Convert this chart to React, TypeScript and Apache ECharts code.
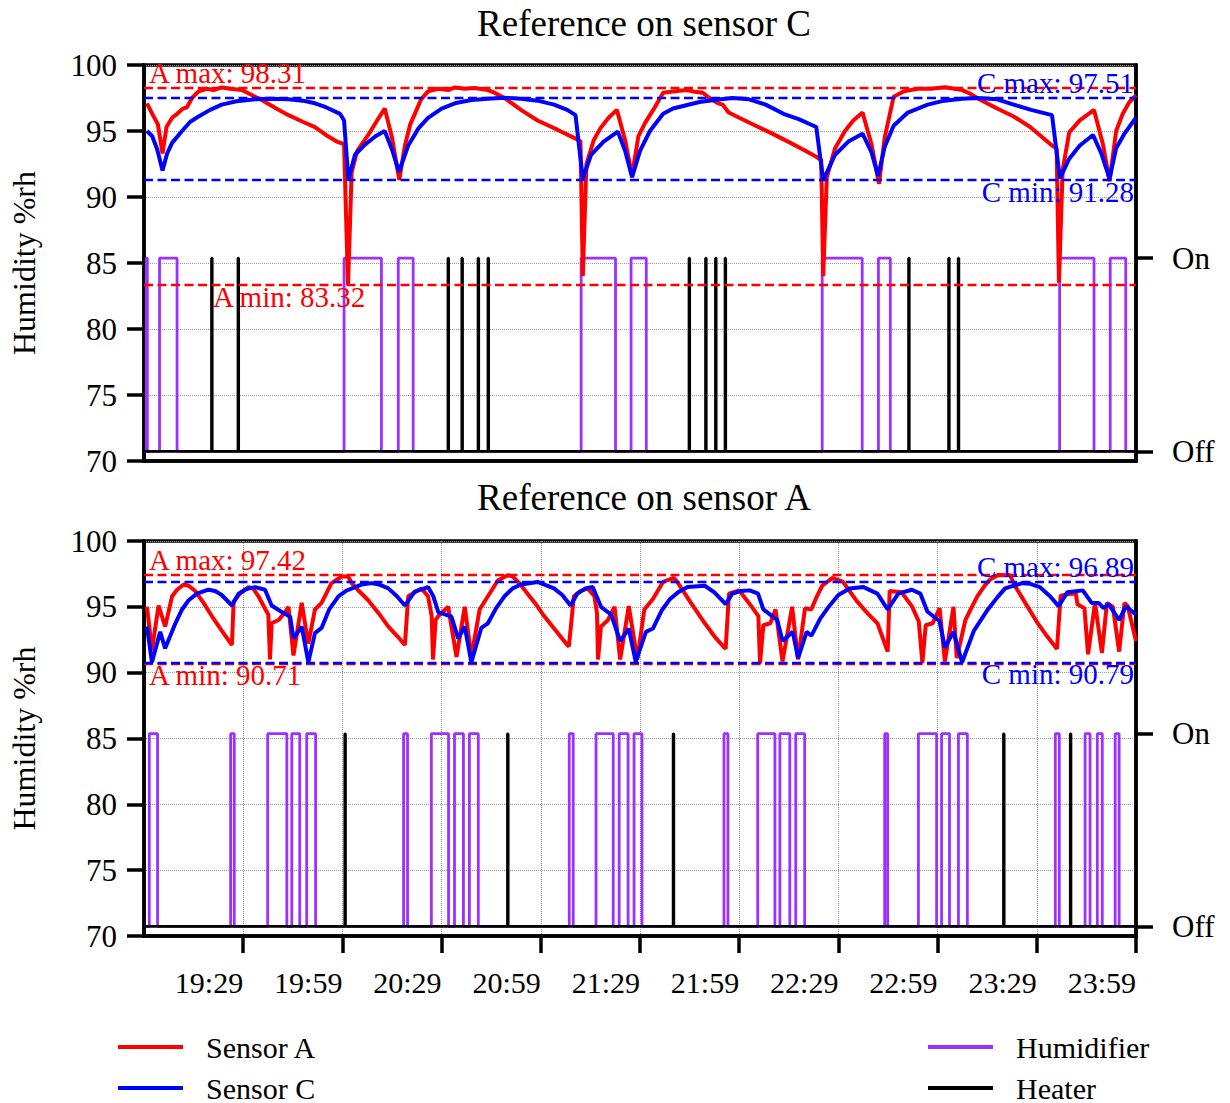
import React, { useEffect, useRef } from "react";
import * as echarts from "echarts";

const FONT = "'Liberation Serif', 'Times New Roman', 'DejaVu Serif', serif";
const START_MINUTES = 18 * 60 + 59; // x = 0 is 18:59
const X_MAX = 300;
const X_TICKS = [30, 60, 90, 120, 150, 180, 210, 240, 270, 300];

const TITLES = ["Reference on sensor C", "Reference on sensor A"];

// ---- Panel 1: reference on sensor C ([minutes after 18:59, %rh]) ----
const topSensorA: number[][] = [
  [0.9, 97.1], [2.5, 96.3], [4.2, 95.5], [5.6, 93.3], [6.8, 95.3], [8.5, 96.0], [10, 96.3], [11.8, 96.7],
  [13, 96.8], [14.5, 97.5], [16.5, 98.0], [19, 98.2], [21, 98.1], [23.5, 98.3], [26, 98.2], [29.6, 98.1],
  [32, 97.8], [35.6, 97.35], [40, 96.7], [43.7, 96.2], [48, 95.7], [51.7, 95.3], [55, 94.7], [58.3, 94.2],
  [60.5, 94.0], [61.7, 83.32], [62.8, 91.9], [64.5, 93.5], [67.8, 94.7], [70.5, 95.8], [72.8, 96.7], [75, 94.5],
  [77.2, 91.3], [78.9, 93.9], [80.5, 95.5], [81.9, 96.3], [83.8, 97.4], [85.9, 98.0], [89, 98.2], [92, 98.1],
  [94, 98.3], [97, 98.2], [100, 98.25], [104, 98.1], [106, 97.9], [109, 97.5], [114, 96.6], [119, 95.8],
  [125, 95.1], [130.7, 94.4], [132, 94.2], [132.7, 84.0], [133.8, 92.5], [136, 94.3], [138, 95.2], [140.5, 96.0],
  [143, 96.6], [145.5, 94.3], [147.6, 91.6], [149.5, 94.6], [151.5, 95.6], [154, 96.6], [157, 97.9], [160, 98.0],
  [164, 98.1], [166, 98.0], [169, 97.9], [171, 97.5], [173.6, 97.1], [175, 97.0], [176.8, 96.4], [180, 96.0],
  [185, 95.4], [190, 94.8], [195.5, 94.1], [200, 93.5], [203.3, 93.05], [204.8, 92.8], [205.4, 84.0], [206.5, 91.5],
  [209, 93.7], [212, 95.0], [214.5, 95.8], [217.3, 96.4], [220, 94.0], [222.3, 91.0], [224, 94.5], [226.7, 97.6],
  [229.7, 98.0], [234, 98.2], [238, 98.2], [242.3, 98.31], [245, 98.2], [247.5, 98.1], [250, 97.8], [252.6, 97.4],
  [258, 96.7], [263, 96.1], [268, 95.3], [274.6, 93.9], [276, 93.7], [276.7, 83.5], [277.8, 92.0], [279.8, 94.9],
  [283, 95.8], [287.3, 96.6], [290, 94.0], [292, 91.2], [294, 95.0], [296, 96.3], [298, 97.2], [300, 97.7],
];
const topSensorC: number[][] = [
  [0.9, 95.0], [2.5, 94.6], [4.0, 93.6], [5.6, 92.0], [7, 93.3], [8.5, 94.1], [11.5, 95.0], [14, 95.7],
  [16.5, 96.1], [20, 96.6], [23.5, 97.0], [28, 97.25], [33.6, 97.4], [38, 97.45], [43.7, 97.4], [48, 97.3],
  [51.7, 97.1], [55, 96.8], [59.3, 96.3], [60.5, 95.8], [61.8, 91.3], [63.8, 93.2], [67, 94.0], [70, 94.6],
  [72.8, 95.0], [75, 93.6], [77.1, 91.9], [79.9, 93.9], [83, 95.2], [85.9, 96.0], [90, 96.7], [94, 97.1],
  [99, 97.35], [104, 97.45], [109, 97.51], [114, 97.45], [119, 97.3], [124, 97.0], [128, 96.6], [130.5, 96.2],
  [132.7, 91.4], [135.2, 93.2], [139, 94.2], [143.3, 94.95], [145.5, 93.5], [147.6, 91.5], [150, 93.5], [153, 95.0],
  [157, 96.3], [160, 96.7], [164, 96.95], [168, 97.2], [172.6, 97.35], [178, 97.5], [183, 97.4], [188, 97.0],
  [193.4, 96.3], [198, 95.9], [203.3, 95.3], [205.4, 91.28], [209, 93.2], [213, 94.2], [217.3, 94.8], [220, 93.4],
  [222, 91.6], [224, 93.8], [226.7, 95.4], [231, 96.4], [237, 97.0], [242, 97.3], [247.5, 97.45], [252, 97.5],
  [258, 97.4], [263, 97.0], [268.3, 96.6], [274.6, 96.2], [277, 91.4], [279.8, 92.9], [283, 93.9], [287, 94.7],
  [289.5, 93.3], [292, 91.4], [294, 93.7], [296.5, 94.8], [300, 96.0],
];
const topHumidifierOn: number[][] = [
  [0.7, 1.0], [4.7, 10.0], [60.5, 71.8], [76.9, 81.4], [132.2, 142.6], [147.3, 151.9],
  [205.1, 217.2], [222.1, 225.7], [276.9, 287.3], [292.2, 296.9],
];
const topHeaterOn: number[] = [20.4, 28.4, 91.9, 96.1, 101.0, 104.0, 164.8, 169.8, 172.8, 175.7, 231.2, 243.3, 246.2];
const topStats = { aMax: 98.31, aMin: 83.32, cMax: 97.51, cMin: 91.28 };

// ---- Panel 2: reference on sensor A ----
const botSensorA: number[][] = [
  [0.9, 95.0], [2.4, 91.7], [4.4, 95.1], [6.4, 93.5], [8.5, 95.8], [10, 96.3], [12, 96.7], [13.5, 96.6],
  [15.5, 96.2], [18, 95.3], [20.5, 94.3], [23.5, 93.2], [26.6, 92.1], [27.1, 95.4], [29, 96.0], [31.6, 96.5],
  [33, 96.4], [34.6, 95.8], [37.6, 94.4], [38.1, 91.0], [38.6, 93.75], [40.7, 94.0], [42.7, 94.6], [43.7, 95.0],
  [45.2, 91.3], [47.7, 95.3], [49.7, 92.2], [51.7, 94.8], [53.7, 95.3], [56.7, 96.8], [59.8, 97.3], [61.8, 97.3],
  [62.8, 96.8], [65, 96.2], [67.8, 95.5], [71, 94.5], [73.9, 93.5], [76.5, 92.8], [78.9, 92.1], [79.9, 95.8],
  [83.9, 96.4], [85.9, 95.8], [87.0, 94.3], [87.4, 91.0], [88.2, 94.0], [89, 94.3], [92, 95.0], [94.5, 91.2],
  [97, 95.0], [99, 91.2], [101.5, 94.8], [104, 95.8], [107, 97.0], [110, 97.4], [111.5, 97.3], [113.5, 96.8],
  [116, 96.0], [118.5, 95.2], [121, 94.3], [124.5, 93.2], [128, 92.1], [128.5, 92.0], [130, 95.8], [132, 96.2],
  [134.2, 96.4], [136.2, 95.8], [137.0, 94.5], [137.3, 91.0], [138.2, 93.5], [140.3, 94.0], [142.3, 95.0], [144.0, 91.0],
  [146.6, 95.05], [149.2, 91.0], [151.3, 94.8], [153.9, 95.6], [157, 96.9], [160.2, 97.2], [161.5, 96.8], [165.4, 95.3],
  [169.6, 93.75], [173, 92.6], [175.9, 91.8], [176.9, 96.0], [180, 96.25], [183.2, 95.2], [185.8, 94.3], [186.3, 90.71],
  [187.3, 93.6], [189.4, 93.75], [191, 94.8], [193.1, 90.85], [196, 95.0], [197.8, 91.0], [199.9, 94.9], [201.8, 94.8],
  [203.5, 95.8], [205.1, 96.6], [208.2, 97.2], [211.4, 96.9], [215.5, 95.45], [218.5, 94.6], [221.8, 93.75], [224.9, 91.6],
  [225.5, 96.2], [229.1, 96.1], [232.2, 95.05], [234.3, 93.9], [235.4, 90.75], [236.4, 93.6], [238.5, 93.75], [240.6, 94.9],
  [242.2, 90.85], [244.8, 95.0], [245.8, 91.1], [248.4, 94.0], [250, 94.8], [252, 95.8], [254.2, 96.6], [256, 97.1],
  [258.3, 97.42], [261.9, 97.4], [263.6, 96.5], [266.5, 95.3], [269.9, 93.9], [273, 92.8], [276.1, 91.8], [277.2, 95.85],
  [280.3, 96.0], [281.8, 96.0], [282.3, 95.2], [284.4, 94.9], [285.5, 91.4], [287.6, 95.3], [289.7, 91.5], [291.2, 95.3],
  [293, 95.0], [294.9, 91.6], [296.5, 95.3], [297.5, 95.05], [300, 92.4],
];
const botSensorC: number[][] = [
  [0.9, 93.5], [2.4, 90.8], [4.9, 93.1], [6.4, 91.85], [9.5, 93.75], [11.5, 94.8], [13.5, 95.5], [16, 96.0],
  [19.5, 96.3], [21.5, 96.2], [23.5, 95.9], [26.6, 95.1], [28.6, 96.0], [31, 96.35], [33.6, 96.5], [36.6, 96.3],
  [38.6, 95.1], [41.7, 94.6], [44.2, 94.25], [45.2, 92.6], [47.7, 93.5], [49.7, 90.8], [51.7, 93.0], [53.7, 93.4],
  [56, 94.8], [58.8, 95.8], [61, 96.2], [63.8, 96.5], [66, 96.7], [68.8, 96.8], [71, 96.7], [73.9, 96.4],
  [76.5, 95.8], [78.9, 95.1], [81.9, 96.15], [85.9, 96.5], [87.5, 95.8], [89, 94.6], [93, 94.25], [95, 92.6],
  [97, 93.5], [99, 90.8], [102, 93.4], [104, 93.75], [106.5, 94.9], [109, 95.8], [111.5, 96.4], [114, 96.7],
  [119, 96.89], [124, 96.4], [126.5, 95.9], [129, 95.1], [131, 96.0], [133.5, 96.4], [135.7, 96.5], [138.2, 95.0],
  [141.3, 94.4], [144.0, 92.4], [146.6, 93.35], [148.7, 90.85], [151.8, 93.1], [153.9, 93.35], [156.5, 94.7], [159.1, 95.6],
  [161.5, 96.1], [164.4, 96.5], [169.6, 96.6], [172.5, 96.1], [175.9, 95.2], [177.9, 96.0], [180.5, 96.2], [183.2, 96.25],
  [185.7, 96.0], [187.3, 94.8], [191.5, 94.0], [193.1, 92.4], [196.2, 93.1], [197.8, 91.1], [200.4, 93.1], [201.8, 92.8],
  [204.5, 94.1], [207.2, 95.05], [210, 95.9], [213.4, 96.4], [217.6, 96.5], [221.8, 96.0], [224.9, 94.8], [228.1, 96.0],
  [232.2, 96.3], [234.8, 96.0], [236.9, 94.65], [240.6, 93.9], [242.2, 91.9], [244.8, 93.1], [247.4, 90.79], [251, 93.2],
  [255.2, 94.8], [258, 95.7], [260.4, 96.4], [265.6, 96.8], [268, 96.75], [270.9, 96.5], [274, 95.8], [276.6, 95.05],
  [279.2, 96.1], [283.9, 96.25], [286.6, 95.3], [288.7, 95.3], [290.2, 94.9], [291.7, 95.2], [294.9, 94.0], [297, 95.05],
  [300, 94.4],
];
const botHumidifierOn: number[][] = [
  [1.6, 4.1], [26.2, 27.3], [37.4, 43.2], [44.7, 47.1], [49.2, 51.9], [78.5, 79.7], [86.9, 92.1], [93.9, 96.6],
  [98.4, 101.1], [128.6, 129.8], [136.7, 141.9], [143.7, 146.4], [148.2, 150.6], [175.4, 176.6], [185.6, 190.8],
  [192.3, 195.3], [197.1, 199.8], [224.0, 224.9], [234.2, 239.7], [241.2, 243.6], [246.3, 249.0], [275.6, 276.8],
  [284.6, 286.1], [288.3, 289.8], [293.7, 294.9],
];
const botHeaterOn: number[] = [60.7, 109.9, 160.0, 259.9, 280.1];
const botStats = { aMax: 97.42, aMin: 90.71, cMax: 96.89, cMin: 90.79 };

const LEGEND_ITEMS = ["Sensor A", "Sensor C", "Humidifier", "Heater"];

const RED = "#ff0000";
const BLUE = "#0000ff";
const PURPLE = "#9b30ff";
const BLACK = "#000000";

function stepData(intervals: number[][]): number[][] {
  const pts: number[][] = [[0, 0]];
  for (const [s, e] of intervals) {
    pts.push([s, 0], [s, 1], [e, 1], [e, 0]);
  }
  pts.push([X_MAX, 0]);
  return pts;
}

function fmtTime(v: number): string {
  const m = START_MINUTES + v;
  const h = Math.floor(m / 60) % 24;
  const mm = m % 60;
  return `${h}:${mm < 10 ? "0" : ""}${mm}`;
}

function makeOption() {
  const grids = [
    { left: 142, top: 65, width: 994, height: 396 },
    { left: 142, top: 541, width: 994, height: 395 },
  ];
  const axisLineStyle = { color: BLACK, width: 3.5 };
  const dash = [9, 4.5];

  const xAxis = grids.map((_, i) => ({
    gridIndex: i,
    type: "value",
    min: 0,
    max: X_MAX,
    interval: 30,
    axisLine: { show: true, onZero: false, lineStyle: axisLineStyle },
    axisTick: i === 1
      ? { show: true, length: 17, lineStyle: { color: BLACK, width: 3.5 }, customValues: X_TICKS }
      : { show: false },
    axisLabel: i === 1
      ? {
          show: true, customValues: X_TICKS, formatter: (v: number) => fmtTime(v), align: "right",
          margin: 31, fontSize: 30, fontFamily: FONT, color: BLACK,
        }
      : { show: false },
    splitLine: { show: i === 1, lineStyle: { type: "dotted", color: "#8c8c8c", width: 1 } },
  }));

  const yAxis: any[] = [];
  grids.forEach((_, i) => {
    yAxis.push({
      gridIndex: i,
      type: "value",
      position: "left",
      min: 70,
      max: 100,
      interval: 5,
      name: "Humidity %rh",
      nameLocation: "middle",
      nameGap: 104,
      nameTextStyle: { fontSize: 32, fontFamily: FONT, color: BLACK },
      axisLine: { show: true, lineStyle: axisLineStyle },
      axisTick: { show: true, length: 17, lineStyle: { color: BLACK, width: 3.5 } },
      axisLabel: { margin: 27, fontSize: 31, fontFamily: FONT, color: BLACK },
      splitLine: { show: true, lineStyle: { type: "dotted", color: "#9a9a9a", width: 1 } },
    });
    yAxis.push({
      gridIndex: i,
      type: "value",
      position: "right",
      min: -0.05,
      max: 2,
      axisLine: { show: true, lineStyle: axisLineStyle },
      axisTick: { show: true, length: 17, customValues: [0, 1], lineStyle: { color: BLACK, width: 3.5 } },
      axisLabel: {
        customValues: [0, 1],
        formatter: (v: number) => (v >= 0.5 ? "On" : "Off"),
        margin: 36, fontSize: 31, fontFamily: FONT, color: BLACK,
      },
      splitLine: { show: false },
    });
  });

  const panels = [
    { a: topSensorA, c: topSensorC, hum: topHumidifierOn, heat: topHeaterOn, st: topStats, aMinShift: 69 },
    { a: botSensorA, c: botSensorC, hum: botHumidifierOn, heat: botHeaterOn, st: botStats, aMinShift: 5 },
  ];

  const labelBase = { fontSize: 29, fontFamily: FONT };
  const series: any[] = [];
  panels.forEach((p, i) => {
    series.push({
      name: "Humidifier", type: "line", xAxisIndex: i, yAxisIndex: i * 2 + 1,
      data: stepData(p.hum), symbol: "none", lineStyle: { color: PURPLE, width: 2.8 }, itemStyle: { color: PURPLE },
      z: 2,
    });
    series.push({
      name: "Heater", type: "line", xAxisIndex: i, yAxisIndex: i * 2 + 1,
      data: stepData(p.heat.map((t) => [t, t + 0.25])), symbol: "none",
      lineStyle: { color: BLACK, width: 2.6 }, itemStyle: { color: BLACK }, z: 3,
    });
    series.push({
      name: "Sensor A", type: "line", xAxisIndex: i, yAxisIndex: i * 2,
      data: p.a, symbol: "none", lineStyle: { color: RED, width: 4 }, itemStyle: { color: RED }, z: 4,
      markLine: {
        silent: true, symbol: ["none", "none"],
        lineStyle: { color: RED, type: dash, width: 2.4 },
        data: [
          { yAxis: p.st.aMax, label: { ...labelBase, color: RED, position: "insideStartTop", distance: [5, 0], formatter: `A max: ${p.st.aMax.toFixed(2)}` } },
          { yAxis: p.st.aMin, label: { ...labelBase, color: RED, position: "insideStartBottom", distance: [p.aMinShift, -3], formatter: `A min: ${p.st.aMin.toFixed(2)}` } },
        ],
      },
    });
    series.push({
      name: "Sensor C", type: "line", xAxisIndex: i, yAxisIndex: i * 2,
      data: p.c, symbol: "none", lineStyle: { color: BLUE, width: 4 }, itemStyle: { color: BLUE }, z: 5,
      markLine: {
        silent: true, symbol: ["none", "none"],
        lineStyle: { color: BLUE, type: dash, width: 2.4 },
        data: [
          { yAxis: p.st.cMax, label: { ...labelBase, color: BLUE, position: "insideEndTop", distance: [2, 0], formatter: `C max: ${p.st.cMax.toFixed(2)}` } },
          { yAxis: p.st.cMin, label: { ...labelBase, color: BLUE, position: "insideEndBottom", distance: [2, -3], formatter: `C min: ${p.st.cMin.toFixed(2)}` } },
        ],
      },
    });
  });

  const legendText = { fontSize: 30, lineHeight: 30, fontFamily: FONT, color: BLACK, padding: [0, 0, 0, 18] };
  const legendPos = [
    { left: 113, top: 1027 },
    { left: 113, top: 1068 },
    { left: 923, top: 1027 },
    { left: 923, top: 1068 },
  ];
  const legend = LEGEND_ITEMS.map((name, k) => ({
    data: [name], orient: "horizontal", ...legendPos[k],
    icon: "rect", itemWidth: 65, itemHeight: 4, textStyle: legendText, selectedMode: false,
  }));

  const titleStyle = { fontSize: 37, fontWeight: "normal", fontFamily: FONT, color: BLACK };
  return {
    animation: false,
    backgroundColor: "#ffffff",
    title: [
      { text: TITLES[0], left: 639, top: 0, textAlign: "center", textStyle: titleStyle },
      { text: TITLES[1], left: 639, top: 474, textAlign: "center", textStyle: titleStyle },
    ],
    legend,
    grid: grids.map((g) => ({ ...g, show: true, borderColor: BLACK, borderWidth: 3.5, containLabel: false })),
    xAxis,
    yAxis,
    series,
  };
}

export default function App() {
  const ref = useRef<HTMLDivElement>(null);
  useEffect(() => {
    if (!ref.current) return;
    const chart = echarts.init(ref.current, undefined, { renderer: "svg" });
    chart.setOption(makeOption() as any);
    return () => chart.dispose();
  }, []);
  return <div ref={ref} style={{ position: "absolute", left: 0, top: 0, width: 1230, height: 1103 }} />;
}
